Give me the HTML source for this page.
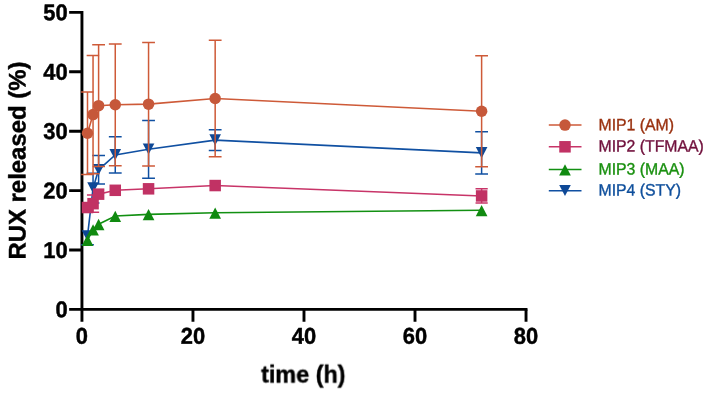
<!DOCTYPE html>
<html lang="en">
<head>
<meta charset="utf-8">
<title>RUX released (%) vs time (h)</title>
<style>
html,body{margin:0;padding:0;background:#fff;}
body{width:707px;height:394px;overflow:hidden;}
svg{display:block;will-change:transform;}
</style>
</head>
<body>
<svg width="707" height="394" viewBox="0 0 707 394">
<defs><filter id="soft" x="-5%" y="-5%" width="110%" height="110%"><feGaussianBlur stdDeviation="0.3"/></filter></defs>
<rect width="707" height="394" fill="#fff"/>
<g filter="url(#soft)">
<g stroke="#000" stroke-width="2.9" fill="none" stroke-linecap="butt">
<path d="M81.95 10.95V321.70M69.15 309.4H527.48"/>
<path d="M69.15 250.00H81.95M69.15 190.60H81.95M69.15 131.20H81.95M69.15 71.80H81.95M69.15 12.40H81.95M192.97 309.40V321.70M303.99 309.40V321.70M415.01 309.40V321.70M526.03 309.40V321.70"/>
</g>
<g font-family="Liberation Sans, Arial, Helvetica, sans-serif" font-weight="bold" fill="#000" stroke="#000" stroke-width="0.45" stroke-linejoin="round">
<text transform="translate(67.60 317.30) rotate(0.03) scale(0.96 1.0)" font-size="22.8" text-anchor="end" >0</text>
<text transform="translate(67.60 257.90) rotate(0.03) scale(0.96 1.0)" font-size="22.8" text-anchor="end" >10</text>
<text transform="translate(67.60 198.50) rotate(0.03) scale(0.96 1.0)" font-size="22.8" text-anchor="end" >20</text>
<text transform="translate(67.60 139.10) rotate(0.03) scale(0.96 1.0)" font-size="22.8" text-anchor="end" >30</text>
<text transform="translate(67.60 79.70) rotate(0.03) scale(0.96 1.0)" font-size="22.8" text-anchor="end" >40</text>
<text transform="translate(67.60 20.30) rotate(0.03) scale(0.96 1.0)" font-size="22.8" text-anchor="end" >50</text>
<text transform="translate(81.95 343.80) rotate(0.03) scale(0.96 1.0)" font-size="22.8" text-anchor="middle" >0</text>
<text transform="translate(192.97 343.80) rotate(0.03) scale(0.96 1.0)" font-size="22.8" text-anchor="middle" >20</text>
<text transform="translate(303.99 343.80) rotate(0.03) scale(0.96 1.0)" font-size="22.8" text-anchor="middle" >40</text>
<text transform="translate(415.01 343.80) rotate(0.03) scale(0.96 1.0)" font-size="22.8" text-anchor="middle" >60</text>
<text transform="translate(526.03 343.80) rotate(0.03) scale(0.96 1.0)" font-size="22.8" text-anchor="middle" >80</text>
<text transform="translate(303.30 382.60) rotate(0.03) scale(0.975 1.0)" font-size="24" text-anchor="middle" >time (h)</text>
<text transform="translate(25.50 160.60) rotate(-89.97) scale(0.997 1.0)" font-size="24" text-anchor="middle" >RUX released (%)</text>
</g>
</g>
<g stroke="#1050A2" stroke-width="1.5" fill="none">
<path d="M87.50 236.16V244.77M81.10 244.77H93.90M93.05 173.37V203.07M86.65 173.37H99.45M86.65 203.07H99.45M98.60 155.55V184.07M92.20 155.55H105.00M92.20 184.07H105.00M115.26 136.84V173.08M108.86 136.84H121.66M108.86 173.08H121.66M148.56 120.51V178.13M142.16 120.51H154.96M142.16 178.13H154.96M215.17 129.71V150.50M208.77 129.71H221.57M208.77 150.50H221.57M481.62 131.79V173.97M475.22 131.79H488.02M475.22 173.97H488.02"/>
<polyline points="87.50,236.16 93.05,188.22 98.60,169.81 115.26,154.96 148.56,149.32 215.17,140.11 481.62,152.88" stroke-width="1.6"/>
</g>
<polygon points="87.50,241.46 81.70,230.31 93.30,230.31" fill="#0E4896"/>
<polygon points="93.05,193.52 87.25,182.37 98.85,182.37" fill="#0E4896"/>
<polygon points="98.60,175.11 92.80,163.96 104.40,163.96" fill="#0E4896"/>
<polygon points="115.26,160.26 109.46,149.11 121.06,149.11" fill="#0E4896"/>
<polygon points="148.56,154.62 142.76,143.47 154.36,143.47" fill="#0E4896"/>
<polygon points="215.17,145.41 209.37,134.26 220.97,134.26" fill="#0E4896"/>
<polygon points="481.62,158.18 475.82,147.03 487.42,147.03" fill="#0E4896"/>
<g stroke="#129012" stroke-width="1.5" fill="none">
<polyline points="87.50,239.90 93.05,229.51 98.60,224.16 115.26,216.02 148.56,214.36 215.17,212.76 481.62,210.20" stroke-width="1.6"/>
</g>
<polygon points="87.50,234.60 81.65,245.90 93.35,245.90" fill="#108A10"/>
<polygon points="93.05,224.21 87.20,235.51 98.90,235.51" fill="#108A10"/>
<polygon points="98.60,218.86 92.75,230.16 104.45,230.16" fill="#108A10"/>
<polygon points="115.26,210.72 109.41,222.02 121.11,222.02" fill="#108A10"/>
<polygon points="148.56,209.06 142.71,220.36 154.41,220.36" fill="#108A10"/>
<polygon points="215.17,207.46 209.32,218.76 221.02,218.76" fill="#108A10"/>
<polygon points="481.62,204.90 475.77,216.20 487.47,216.20" fill="#108A10"/>
<g stroke="#C83468" stroke-width="1.5" fill="none">
<path d="M93.05 195.05V212.28M86.95 195.05H99.15M86.95 212.28H99.15M481.62 188.82V203.07M475.52 188.82H487.72M475.52 203.07H487.72"/>
<polyline points="87.50,207.53 93.05,203.67 98.60,194.16 115.26,190.30 148.56,188.82 215.17,185.55 481.62,195.95" stroke-width="1.6"/>
</g>
<rect x="81.75" y="201.78" width="11.5" height="11.5" fill="#C13264"/>
<rect x="87.30" y="197.92" width="11.5" height="11.5" fill="#C13264"/>
<rect x="92.85" y="188.41" width="11.5" height="11.5" fill="#C13264"/>
<rect x="109.51" y="184.55" width="11.5" height="11.5" fill="#C13264"/>
<rect x="142.81" y="183.07" width="11.5" height="11.5" fill="#C13264"/>
<rect x="209.42" y="179.80" width="11.5" height="11.5" fill="#C13264"/>
<rect x="475.87" y="190.20" width="11.5" height="11.5" fill="#C13264"/>
<g stroke="#CE5A38" stroke-width="1.5" fill="none">
<path d="M87.50 92.00V174.56M81.10 92.00H93.90M81.10 174.56H93.90M93.05 55.46V173.67M86.65 55.46H99.45M86.65 173.67H99.45M98.60 44.77V166.54M92.20 44.77H105.00M92.20 166.54H105.00M115.26 43.88V165.65M108.86 43.88H121.66M108.86 165.65H121.66M148.56 42.40V165.95M142.16 42.40H154.96M142.16 165.95H154.96M215.17 40.32V156.74M208.77 40.32H221.57M208.77 156.74H221.57M481.62 55.76V166.84M475.22 55.76H488.02M475.22 166.84H488.02"/>
<polyline points="87.50,133.28 93.05,114.57 98.60,105.66 115.26,104.77 148.56,104.17 215.17,98.53 481.62,111.30" stroke-width="1.6"/>
</g>
<circle cx="87.50" cy="133.28" r="5.75" fill="#C6583A"/>
<circle cx="93.05" cy="114.57" r="5.75" fill="#C6583A"/>
<circle cx="98.60" cy="105.66" r="5.75" fill="#C6583A"/>
<circle cx="115.26" cy="104.77" r="5.75" fill="#C6583A"/>
<circle cx="148.56" cy="104.17" r="5.75" fill="#C6583A"/>
<circle cx="215.17" cy="98.53" r="5.75" fill="#C6583A"/>
<circle cx="481.62" cy="111.30" r="5.75" fill="#C6583A"/>
<path d="M548.8 125.1H581.5" stroke="#CE5A38" stroke-width="1.5"/>
<circle cx="565.00" cy="125.10" r="5.75" fill="#C6583A"/>
<text transform="translate(598.50 130.30) rotate(0.03) scale(0.988 1.03)" font-size="16" text-anchor="start" font-family="Liberation Sans, Arial, Helvetica, sans-serif" fill="#9A3210" stroke="#9A3210" stroke-width="0.35">MIP1 (AM)</text>
<path d="M548.8 146.8H581.5" stroke="#C83468" stroke-width="1.5"/>
<rect x="559.25" y="141.05" width="11.5" height="11.5" fill="#C13264"/>
<text transform="translate(598.50 151.50) rotate(0.03) scale(0.988 1.03)" font-size="16" text-anchor="start" font-family="Liberation Sans, Arial, Helvetica, sans-serif" fill="#70103C" stroke="#70103C" stroke-width="0.35">MIP2 (TFMAA)</text>
<path d="M548.8 169.5H581.5" stroke="#129012" stroke-width="1.5"/>
<polygon points="565.00,164.20 559.15,175.50 570.85,175.50" fill="#108A10"/>
<text transform="translate(598.50 174.40) rotate(0.03) scale(0.988 1.03)" font-size="16" text-anchor="start" font-family="Liberation Sans, Arial, Helvetica, sans-serif" fill="#1A9010" stroke="#1A9010" stroke-width="0.35">MIP3 (MAA)</text>
<path d="M548.8 190.8H581.5" stroke="#1050A2" stroke-width="1.5"/>
<polygon points="565.00,196.10 559.20,184.95 570.80,184.95" fill="#0E4896"/>
<text transform="translate(598.50 195.50) rotate(0.03) scale(0.988 1.03)" font-size="16" text-anchor="start" font-family="Liberation Sans, Arial, Helvetica, sans-serif" fill="#0F4F9C" stroke="#0F4F9C" stroke-width="0.35">MIP4 (STY)</text>
</svg>
</body>
</html>
